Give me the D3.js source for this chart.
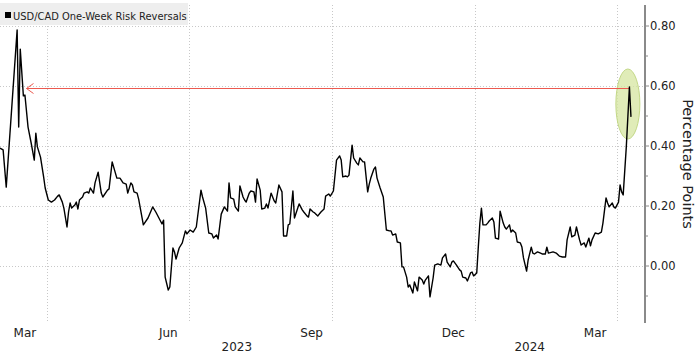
<!DOCTYPE html>
<html>
<head>
<meta charset="utf-8">
<script src="https://cdn.jsdelivr.net/npm/d3@7"></script>
<style>
  body { margin: 0; background: #fff; }
  svg { display: block; font-family: "DejaVu Sans", sans-serif; }
</style>
</head>
<body>
<div id="chart"></div>
<script>
// USD/CAD one-week 25d risk reversals
const riskReversals = [
  ["2023-03-02", 0.393], ["2023-03-04", 0.387], ["2023-03-06", 0.263], ["2023-03-13", 0.787],
  ["2023-03-14", 0.463], ["2023-03-15", 0.723], ["2023-03-17", 0.567], ["2023-03-18", 0.570],
  ["2023-03-20", 0.463], ["2023-03-22", 0.410], ["2023-03-24", 0.353], ["2023-03-25", 0.443],
  ["2023-03-26", 0.397], ["2023-03-28", 0.363], ["2023-03-30", 0.297], ["2023-03-31", 0.260],
  ["2023-04-02", 0.220], ["2023-04-04", 0.213], ["2023-04-06", 0.220], ["2023-04-08", 0.233],
  ["2023-04-09", 0.237], ["2023-04-11", 0.213], ["2023-04-12", 0.193], ["2023-04-14", 0.130],
  ["2023-04-15", 0.180], ["2023-04-16", 0.210], ["2023-04-17", 0.193], ["2023-04-19", 0.203],
  ["2023-04-20", 0.213], ["2023-04-21", 0.190], ["2023-04-22", 0.220], ["2023-04-24", 0.230],
  ["2023-04-25", 0.243], ["2023-04-27", 0.247], ["2023-04-28", 0.243], ["2023-04-29", 0.260],
  ["2023-05-01", 0.243], ["2023-05-02", 0.277], ["2023-05-04", 0.313], ["2023-05-06", 0.243],
  ["2023-05-07", 0.230], ["2023-05-10", 0.253], ["2023-05-11", 0.257], ["2023-05-13", 0.347],
  ["2023-05-16", 0.293], ["2023-05-18", 0.293], ["2023-05-20", 0.277], ["2023-05-22", 0.273],
  ["2023-05-23", 0.243], ["2023-05-25", 0.277], ["2023-05-26", 0.270], ["2023-05-27", 0.247],
  ["2023-05-29", 0.243], ["2023-05-30", 0.223], ["2023-06-02", 0.137], ["2023-06-05", 0.160],
  ["2023-06-08", 0.197], ["2023-06-10", 0.180], ["2023-06-12", 0.160], ["2023-06-14", 0.140],
  ["2023-06-15", 0.153], ["2023-06-16", -0.037], ["2023-06-18", -0.080], ["2023-06-19", -0.070],
  ["2023-06-21", 0.060], ["2023-06-22", 0.047], ["2023-06-23", 0.023], ["2023-06-25", 0.060],
  ["2023-06-27", 0.077], ["2023-06-29", 0.117], ["2023-06-30", 0.107], ["2023-07-02", 0.120],
  ["2023-07-04", 0.113], ["2023-07-06", 0.130], ["2023-07-09", 0.253], ["2023-07-10", 0.230],
  ["2023-07-12", 0.193], ["2023-07-14", 0.110], ["2023-07-16", 0.107], ["2023-07-17", 0.093],
  ["2023-07-19", 0.103], ["2023-07-20", 0.090], ["2023-07-22", 0.173], ["2023-07-24", 0.197],
  ["2023-07-26", 0.183], ["2023-07-27", 0.277], ["2023-07-28", 0.227], ["2023-07-30", 0.223],
  ["2023-07-31", 0.197], ["2023-08-02", 0.183], ["2023-08-03", 0.267], ["2023-08-05", 0.230],
  ["2023-08-06", 0.220], ["2023-08-07", 0.213], ["2023-08-09", 0.243], ["2023-08-10", 0.250],
  ["2023-08-12", 0.247], ["2023-08-13", 0.213], ["2023-08-14", 0.290], ["2023-08-16", 0.253],
  ["2023-08-17", 0.190], ["2023-08-19", 0.193], ["2023-08-20", 0.207], ["2023-08-21", 0.193],
  ["2023-08-23", 0.243], ["2023-08-25", 0.217], ["2023-08-26", 0.210], ["2023-08-28", 0.270],
  ["2023-08-30", 0.247], ["2023-08-31", 0.100], ["2023-09-02", 0.100], ["2023-09-03", 0.137],
  ["2023-09-04", 0.140], ["2023-09-06", 0.250], ["2023-09-07", 0.160], ["2023-09-10", 0.207],
  ["2023-09-12", 0.187], ["2023-09-13", 0.180], ["2023-09-15", 0.167], ["2023-09-16", 0.163],
  ["2023-09-17", 0.190], ["2023-09-19", 0.180], ["2023-09-20", 0.177], ["2023-09-22", 0.167],
  ["2023-09-24", 0.180], ["2023-09-26", 0.190], ["2023-09-27", 0.233], ["2023-09-29", 0.240],
  ["2023-09-30", 0.233], ["2023-10-02", 0.250], ["2023-10-04", 0.353], ["2023-10-06", 0.367],
  ["2023-10-07", 0.353], ["2023-10-08", 0.297], ["2023-10-10", 0.300], ["2023-10-11", 0.297],
  ["2023-10-12", 0.303], ["2023-10-14", 0.403], ["2023-10-15", 0.360], ["2023-10-17", 0.343],
  ["2023-10-18", 0.337], ["2023-10-19", 0.360], ["2023-10-21", 0.347], ["2023-10-22", 0.347],
  ["2023-10-24", 0.247], ["2023-10-25", 0.273], ["2023-10-26", 0.293], ["2023-10-28", 0.323],
  ["2023-10-29", 0.330], ["2023-10-30", 0.293], ["2023-11-01", 0.260], ["2023-11-03", 0.230],
  ["2023-11-05", 0.120], ["2023-11-07", 0.117], ["2023-11-08", 0.117], ["2023-11-09", 0.103],
  ["2023-11-11", 0.107], ["2023-11-12", 0.080], ["2023-11-14", 0.077], ["2023-11-15", -0.003],
  ["2023-11-16", -0.003], ["2023-11-18", -0.037], ["2023-11-19", -0.070], ["2023-11-20", -0.063],
  ["2023-11-22", -0.090], ["2023-11-23", -0.053], ["2023-11-25", -0.083], ["2023-11-26", -0.037],
  ["2023-11-28", -0.047], ["2023-11-29", -0.060], ["2023-11-30", -0.047], ["2023-12-02", -0.033],
  ["2023-12-03", -0.103], ["2023-12-05", -0.040], ["2023-12-06", 0.003], ["2023-12-08", 0.007],
  ["2023-12-10", 0.003], ["2023-12-11", 0.027], ["2023-12-13", 0.040], ["2023-12-14", 0.013],
  ["2023-12-16", -0.003], ["2023-12-17", 0.013], ["2023-12-18", 0.017], ["2023-12-20", 0.003],
  ["2023-12-22", -0.013], ["2023-12-23", -0.017], ["2023-12-24", -0.037], ["2023-12-26", -0.040],
  ["2023-12-27", -0.050], ["2023-12-29", -0.023], ["2023-12-30", -0.020], ["2023-12-31", -0.033],
  ["2024-01-02", -0.023], ["2024-01-03", 0.063], ["2024-01-04", 0.143], ["2024-01-05", 0.193],
  ["2024-01-06", 0.137], ["2024-01-08", 0.137], ["2024-01-09", 0.143], ["2024-01-10", 0.150],
  ["2024-01-12", 0.160], ["2024-01-13", 0.147], ["2024-01-14", 0.093], ["2024-01-16", 0.090],
  ["2024-01-17", 0.183], ["2024-01-19", 0.143], ["2024-01-20", 0.130], ["2024-01-21", 0.123],
  ["2024-01-23", 0.137], ["2024-01-24", 0.113], ["2024-01-25", 0.120], ["2024-01-27", 0.110],
  ["2024-01-28", 0.080], ["2024-01-30", 0.077], ["2024-01-31", 0.063], ["2024-02-01", 0.027],
  ["2024-02-03", -0.017], ["2024-02-04", 0.020], ["2024-02-06", 0.063], ["2024-02-07", 0.043],
  ["2024-02-08", 0.040], ["2024-02-10", 0.047], ["2024-02-12", 0.043], ["2024-02-13", 0.040],
  ["2024-02-15", 0.040], ["2024-02-16", 0.063], ["2024-02-17", 0.043], ["2024-02-20", 0.047],
  ["2024-02-22", 0.043], ["2024-02-24", 0.033], ["2024-02-26", 0.030], ["2024-02-28", 0.030],
  ["2024-02-29", 0.087], ["2024-03-02", 0.130], ["2024-03-03", 0.097], ["2024-03-05", 0.103],
  ["2024-03-06", 0.130], ["2024-03-08", 0.087], ["2024-03-09", 0.070], ["2024-03-11", 0.077],
  ["2024-03-12", 0.063], ["2024-03-14", 0.093], ["2024-03-15", 0.067], ["2024-03-16", 0.087],
  ["2024-03-18", 0.110], ["2024-03-20", 0.107], ["2024-03-22", 0.113], ["2024-03-23", 0.143],
  ["2024-03-25", 0.227], ["2024-03-26", 0.210], ["2024-03-27", 0.197], ["2024-03-29", 0.210],
  ["2024-03-30", 0.197], ["2024-03-31", 0.193], ["2024-04-02", 0.213], ["2024-04-03", 0.270],
  ["2024-04-04", 0.247], ["2024-04-05", 0.237], ["2024-04-07", 0.397], ["2024-04-09", 0.597],
  ["2024-04-10", 0.497]
];

const yMajorTicks = [0, 0.2, 0.4, 0.6, 0.8];
const yMinorTicks = [-0.1, 0.1, 0.3, 0.5, 0.7];
const monthLabels = ["2023-03-18", "2023-06-18", "2023-09-18", "2023-12-18", "2024-03-18"];
const yearLabels = [["2023", "2023-08-01"], ["2024", "2024-02-05"]];
const xDomain = ["2023-03-02", "2024-04-19"];
const yDomain = [-0.19, 0.87];

// annotation: arrow back to the March 2023 level, circle round the latest spike
const arrowLevel = 0.595;
const arrowDates = ["2024-04-09", "2023-03-19"];
const spikeCircle = { date: "2024-04-08", value: 0.54 };

const legendTitle = "USD/CAD One-Week Risk Reversals";
const axisTitle = "Percentage Points";

let width = 699,
    height = 353,
    margin = { top: 5, right: 54, bottom: 30, left: 0 },
    plotRight = width - margin.right,
    plotBottom = height - margin.bottom;

const parse = d3.utcParse("%Y-%m-%d");
const data = riskReversals.map(([d, v]) => ({ date: parse(d), value: v }));

let svg = d3.select("#chart")
  .append("svg")
  .attr("width", width)
  .attr("height", height);

let x = d3.scaleUtc()
  .domain(xDomain.map(parse))
  .range([margin.left, plotRight]);

let y = d3.scaleLinear()
  .domain(yDomain)
  .range([plotBottom, margin.top]);

// dotted grid
let grid = svg.append("g")
  .attr("stroke", "#c8c8c8")
  .attr("stroke-width", 1)
  .attr("stroke-dasharray", "1,2");

grid.selectAll("line.h")
  .data(yMajorTicks)
  .join("line")
    .attr("class", "h")
    .attr("x1", margin.left)
    .attr("x2", plotRight)
    .attr("y1", d => Math.round(y(d)) + 0.5)
    .attr("y2", d => Math.round(y(d)) + 0.5);

grid.selectAll("line.v")
  .data(d3.utcMonth.range(...x.domain()).filter(d => d.getUTCMonth() % 3 === 0))
  .join("line")
    .attr("class", "v")
    .attr("x1", d => Math.round(x(d)) + 0.5)
    .attr("x2", d => Math.round(x(d)) + 0.5)
    .attr("y1", margin.top)
    .attr("y2", plotBottom);

// highlight ellipse (drawn under the line)
svg.append("ellipse")
  .attr("cx", x(parse(spikeCircle.date)))
  .attr("cy", y(spikeCircle.value))
  .attr("rx", 12)
  .attr("ry", 35)
  .attr("fill", "#d5e6a0")
  .attr("fill-opacity", 0.75)
  .attr("stroke", "#c3d887")
  .attr("stroke-width", 1);

// red arrow, snapped to the pixel grid so it stays crisp
let ay = Math.round(y(arrowLevel)) + 0.5;
let ax0 = x(parse(arrowDates[0])), ax1 = x(parse(arrowDates[1]));
let arrow = svg.append("g")
  .attr("stroke", "#ec5a50")
  .attr("stroke-width", 1)
  .attr("fill", "none");
arrow.append("line")
  .attr("x1", ax0).attr("x2", ax1)
  .attr("y1", ay).attr("y2", ay);
arrow.append("path")
  .attr("d", `M${ax1 + 7},${ay - 5}L${ax1},${ay}L${ax1 + 7},${ay + 5}`);

// the series
let line = d3.line()
  .x(d => x(d.date))
  .y(d => y(d.value));

svg.append("path")
  .datum(data)
  .attr("fill", "none")
  .attr("stroke", "#000")
  .attr("stroke-width", 1.4)
  .attr("stroke-linejoin", "round")
  .attr("d", line);

// right axis
let axisG = svg.append("g")
  .attr("transform", `translate(${plotRight},0)`);

axisG.append("line")
  .attr("x1", 0).attr("x2", 0)
  .attr("y1", margin.top).attr("y2", plotBottom)
  .attr("stroke", "#8a8a8a")
  .attr("stroke-width", 2);

axisG.selectAll("line.minor")
  .data(yMinorTicks)
  .join("line")
    .attr("class", "minor")
    .attr("x1", 0).attr("x2", 3)
    .attr("y1", d => y(d)).attr("y2", d => y(d))
    .attr("stroke", "#8a8a8a");

axisG.selectAll("line.major")
  .data(yMajorTicks)
  .join("line")
    .attr("class", "major")
    .attr("x1", 0).attr("x2", 4)
    .attr("y1", d => y(d)).attr("y2", d => y(d))
    .attr("stroke", "#8a8a8a");

axisG.selectAll("text")
  .data(yMajorTicks)
  .join("text")
    .attr("x", 5)
    .attr("y", d => y(d))
    .attr("dy", "0.36em")
    .attr("font-size", 11.5)
    .attr("fill", "#222")
    .text(d3.format(".2f"));

svg.append("text")
  .attr("transform", `translate(${width - 16},${(margin.top + plotBottom) / 2}) rotate(90)`)
  .attr("text-anchor", "middle")
  .attr("font-size", 14.5)
  .attr("fill", "#222")
  .text(axisTitle);

// month / year labels
svg.append("g")
  .selectAll("text")
  .data(monthLabels.map(parse))
  .join("text")
    .attr("x", d => x(d))
    .attr("y", plotBottom + 14)
    .attr("text-anchor", "middle")
    .attr("font-size", 12)
    .attr("fill", "#222")
    .text(d3.utcFormat("%b"));

svg.append("g")
  .selectAll("text")
  .data(yearLabels)
  .join("text")
    .attr("x", d => x(parse(d[1])))
    .attr("y", plotBottom + 28)
    .attr("text-anchor", "middle")
    .attr("font-size", 12)
    .attr("fill", "#222")
    .text(d => d[0]);

// legend box
let legend = svg.append("g");
legend.append("rect")
  .attr("x", 0).attr("y", 3)
  .attr("width", 188).attr("height", 22)
  .attr("fill", "#eeeeee");
legend.append("rect")
  .attr("x", 5).attr("y", 12)
  .attr("width", 6).attr("height", 6)
  .attr("fill", "#000");
legend.append("text")
  .attr("x", 13).attr("y", 19.5)
  .attr("font-family", "'DejaVu Sans Condensed', 'DejaVu Sans', sans-serif")
  .attr("font-size", 11)
  .attr("fill", "#222")
  .text(legendTitle);
</script>
</body>
</html>
